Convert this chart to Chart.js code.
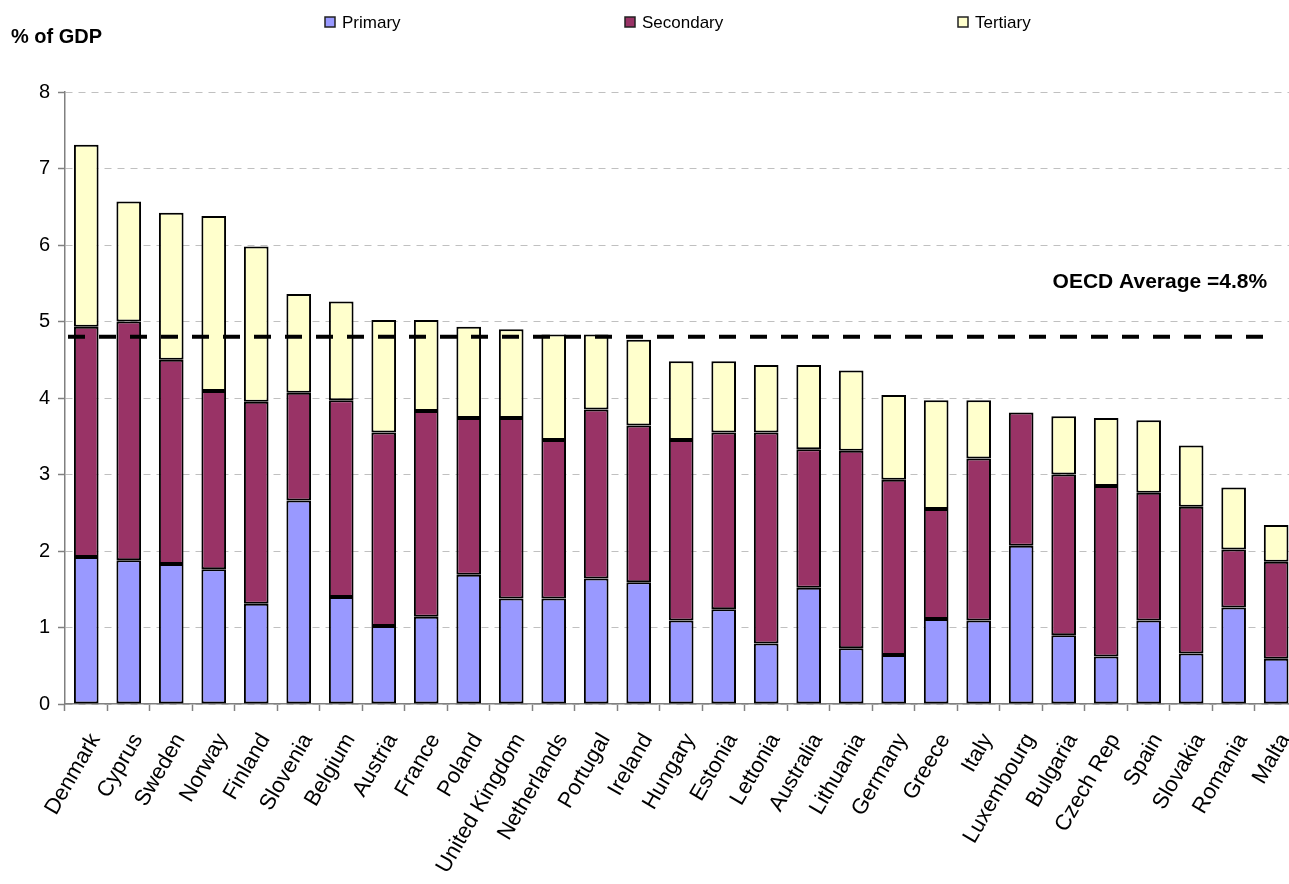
<!DOCTYPE html>
<html>
<head>
<meta charset="utf-8">
<script src="https://cdn.jsdelivr.net/npm/chart.js@4/dist/chart.umd.min.js"></script>
<style>
  html, body { margin: 0; padding: 0; background: #ffffff; overflow: hidden; }
  #wrap { position: relative; width: 1317px; height: 884px; }
</style>
</head>
<body>
<div id="wrap"><canvas id="chart"></canvas></div>
<script>
// Public spending on education by level, % of GDP
const countries = [
  'Denmark', 'Cyprus', 'Sweden', 'Norway', 'Finland', 'Slovenia', 'Belgium', 'Austria',
  'France', 'Poland', 'United Kingdom', 'Netherlands', 'Portugal', 'Ireland', 'Hungary',
  'Estonia', 'Lettonia', 'Australia', 'Lithuania', 'Germany', 'Greece', 'Italy',
  'Luxembourg', 'Bulgaria', 'Czech Rep', 'Spain', 'Slovakia', 'Romania', 'Malta'
];
const primary = [
  1.92, 1.88, 1.83, 1.76, 1.31, 2.66, 1.40, 1.02,
  1.14, 1.69, 1.38, 1.38, 1.64, 1.59, 1.09,
  1.24, 0.79, 1.52, 0.73, 0.64, 1.11, 1.09,
  2.07, 0.90, 0.62, 1.09, 0.66, 1.26, 0.59
];
const secondary = [
  3.01, 3.12, 2.67, 2.33, 2.64, 1.41, 2.57, 2.53,
  2.69, 2.05, 2.36, 2.07, 2.21, 2.05, 2.36,
  2.31, 2.76, 1.81, 2.58, 2.29, 1.44, 2.12,
  1.74, 2.10, 2.23, 1.67, 1.92, 0.76, 1.27
];
const tertiary = [
  2.38, 1.57, 1.92, 2.29, 2.03, 1.29, 1.29, 1.47,
  1.19, 1.19, 1.16, 1.38, 0.98, 1.12, 1.03,
  0.93, 0.88, 1.10, 1.05, 1.11, 1.42, 0.76,
  null, 0.76, 0.89, 0.95, 0.80, 0.81, 0.48
];
const seriesNames = ['Primary', 'Secondary', 'Tertiary'];
const yTickValues = [0, 1, 2, 3, 4, 5, 6, 7, 8];
const oecdAverage = 4.8;
const oecdLabel = 'OECD Average =4.8%';
const yAxisTitle = '% of GDP';

const colors = {
  primary: '#9999FF',
  secondary: '#993366',
  tertiary: '#FFFFCC',
  grid: '#C0C0C0',
  axis: '#808080'
};
const FONT = '"Liberation Sans", Arial, sans-serif';

// Title, spread-out legend and the OECD reference line
const decorations = {
  id: 'decorations',
  afterDatasetsDraw(chart) {
    const { ctx, chartArea, scales } = chart;
    const y = scales.y.getPixelForValue(oecdAverage);
    const lastX = scales.x.getPixelForValue(countries.length - 1);
    ctx.save();
    ctx.strokeStyle = '#000000';
    ctx.lineWidth = 4;
    ctx.setLineDash([17, 14]);
    ctx.beginPath();
    ctx.moveTo(chartArea.left + 3, y);
    ctx.lineTo(lastX - 8, y);
    ctx.stroke();
    ctx.restore();
  },
  afterDraw(chart) {
    const { ctx, scales } = chart;
    ctx.save();
    ctx.fillStyle = '#000000';
    ctx.textBaseline = 'alphabetic';

    // axis caption
    ctx.font = 'bold 20px ' + FONT;
    ctx.textAlign = 'left';
    ctx.fillText(yAxisTitle, 11, 43);

    // reference line label
    ctx.font = 'bold 21px ' + FONT;
    ctx.textAlign = 'right';
    const lastX = scales.x.getPixelForValue(countries.length - 1);
    ctx.fillText(oecdLabel, lastX - 9, 288);

    // legend
    const legendX = [325, 625, 958];
    ctx.font = '17px ' + FONT;
    ctx.textAlign = 'left';
    ctx.textBaseline = 'middle';
    chart.data.datasets.forEach((ds, i) => {
      const bx = legendX[i];
      ctx.fillStyle = ds.backgroundColor;
      ctx.fillRect(bx, 17, 10, 10);
      ctx.strokeStyle = '#222222';
      ctx.lineWidth = 1.5;
      ctx.strokeRect(bx, 17, 10, 10);
      ctx.fillStyle = '#000000';
      ctx.fillText(ds.label, bx + 17, 23);
    });
    ctx.restore();
  }
};

const barStyle = { borderColor: '#000000', borderWidth: 2, borderSkipped: false, barPercentage: 0.58, categoryPercentage: 1.0 };

new Chart(document.getElementById('chart'), {
  type: 'bar',
  data: {
    labels: countries,
    datasets: [
      Object.assign({ label: seriesNames[0], data: primary, backgroundColor: colors.primary }, barStyle),
      Object.assign({ label: seriesNames[1], data: secondary, backgroundColor: colors.secondary }, barStyle),
      Object.assign({ label: seriesNames[2], data: tertiary, backgroundColor: colors.tertiary }, barStyle)
    ]
  },
  options: {
    responsive: true,
    maintainAspectRatio: false,
    animation: false,
    devicePixelRatio: 1,
    layout: { padding: { top: 92, left: 0, right: 0, bottom: 0 } },
    plugins: {
      legend: { display: false },
      tooltip: { enabled: false },
      title: { display: false }
    },
    scales: {
      x: {
        stacked: true,
        afterFit(scale) { scale.height = 180; },
        grid: {
          offset: true,
          drawOnChartArea: false,
          drawTicks: true,
          tickLength: 7,
          tickColor: colors.axis,
          tickWidth: 1.5
        },
        border: { display: true, color: colors.axis, width: 1.5 },
        ticks: {
          autoSkip: false,
          maxRotation: 60,
          minRotation: 60,
          labelOffset: 9,
          padding: 18,
          color: '#000000',
          font: { family: FONT, size: 22 }
        }
      },
      y: {
        stacked: true,
        min: 0,
        max: 8,
        afterFit(scale) { scale.width = 65; },
        afterBuildTicks(scale) { scale.ticks = yTickValues.map(v => ({ value: v })); },
        grid: {
          color: colors.grid,
          lineWidth: 1,
          drawTicks: true,
          tickLength: 7,
          tickColor: colors.axis,
          tickWidth: 1.5,
          tickBorderDash: []
        },
        border: { display: true, color: colors.axis, width: 1.5, dash: [7, 6] },
        ticks: {
          padding: 8,
          color: '#000000',
          font: { family: FONT, size: 20 }
        }
      }
    }
  },
  plugins: [decorations]
});
</script>
</body>
</html>
